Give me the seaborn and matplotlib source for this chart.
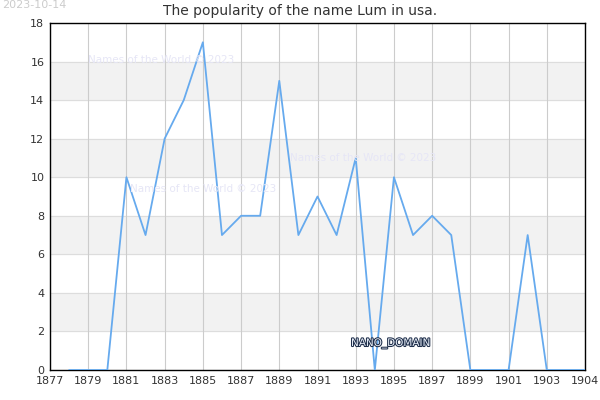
import matplotlib
matplotlib.use("Agg")
import matplotlib.pyplot as plt
import matplotlib.patheffects as pe
import seaborn as sns
import pandas as pd

# data
years = list(range(1878, 1906))
counts = [0, 0, 0, 10, 7, 12, 14, 17, 7, 8, 8, 15, 7, 9, 7, 11, 0,
          10, 7, 8, 7, 0, 0, 0, 7, 0, 0, 0]
xticks = list(range(1877, 1905, 2)) + [1905]
xlabels = [str(v) for v in range(1877, 1905, 2)] + ["1904"]
yticks = list(range(0, 19, 2))

sns.set_style("white")
plt.rcParams['font.family'] = ['DejaVu Sans']

df = pd.DataFrame({"year": years, "count": counts})

fig = plt.figure(figsize=(6, 4), dpi=100)
ax = fig.add_axes([50/600, 30/400, 535/600, 347/400])

# alternating bands
for lo in range(2, 18, 4):
    ax.axhspan(lo, lo + 2, color="#f2f2f2", zorder=0)
for y in yticks:
    ax.axhline(y, color="#dddddd", lw=0.8, zorder=0.5)
for x in xticks:
    ax.axvline(x, color="#cccccc", lw=0.8, zorder=0.5)

sns.lineplot(data=df, x="year", y="count", ax=ax, color="#66aaee", lw=1.3, zorder=3)

ax.set_xlim(1877, 1905)
ax.set_ylim(0, 18)
ax.set_xticks(xticks)
ax.set_xticklabels(xlabels)
ax.set_yticks(yticks)
ax.tick_params(labelsize=8, colors="#333333", length=0, pad=4)
ax.set_xlabel("")
ax.set_ylabel("")
for s in ax.spines.values():
    s.set_color("black")
    s.set_linewidth(1)
ax.grid(False)

fig.text(0.5, 1 - 11/400, "The popularity of the name Lum in usa.", fontsize=10,
         color="#333333", ha="center", va="center")

# watermarks
wm = dict(fontsize=7.5, color="#e6e6f6", zorder=1)
fig.text(88/600, 1 - 63/400, "Names of the World © 2023", **wm)
fig.text(290/600, 1 - 161/400, "Names of the World © 2023", **wm)
fig.text(130/600, 1 - 192/400, "Names of the World © 2023", **wm)
fig.text(2/600, 1 - 8/400, "2023-10-14", fontsize=8, color="#cccccc")
t = fig.text(351/600, 1 - 346/400, "NANO_DOMAIN", fontsize=7.5, color="#e8eef8")
t.set_path_effects([pe.withStroke(linewidth=1.5, foreground="#1e2e4a")])

fig.savefig("out.png", dpi=100)
